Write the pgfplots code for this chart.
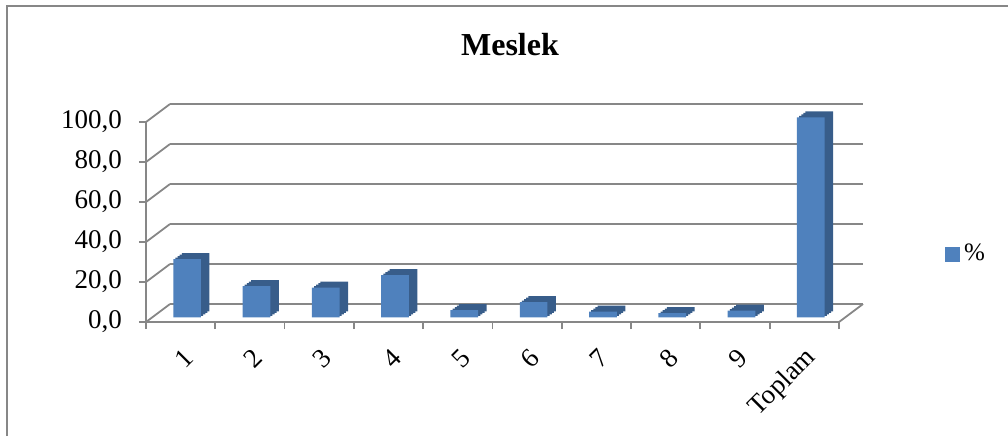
\documentclass[border=0pt]{standalone}
\usepackage{pgfplots}
\pgfplotsset{compat=1.18}
\usepackage{pgfplotstable}
\usepackage{fontspec}
\setmainfont{Liberation Serif}
\definecolor{barfront}{HTML}{4F81BD}
\definecolor{barside}{HTML}{385D8A}
\definecolor{gridc}{HTML}{878787}
\pgfplotstableread{
i v
0 29.1
1 15.6
2 14.8
3 21.1
4 3.6
5 7.6
6 2.8
7 2.1
8 3.3
9 100.0
}\meslek
\begin{document}
\begin{tikzpicture}
\useasboundingbox (0,0) rectangle (504pt,218pt);
\draw[gridc, line width=0.9pt] (3.5pt,0) -- (3.5pt,215pt) -- (504pt,215pt);
\node[anchor=base, font=\fontsize{16}{18}\selectfont\bfseries] at (255pt,190.5pt) {Meslek};
% back wall
\begin{axis}[
  at={(85pt,66pt)}, anchor=south west,
  scale only axis, width=346.5pt, height=100pt,
  xmin=-0.5, xmax=9.5, ymin=0, ymax=100,
  axis line style={draw=none},
  xtick=\empty, ytick={0,20,...,100}, yticklabels={},
  major tick length=0pt,
  ymajorgrids, grid style={gridc, line width=0.9pt},
]
\addplot[draw=none, forget plot] coordinates {(0,0)};
\end{axis}
% front
\begin{axis}[
  at={(73pt,57pt)}, anchor=south west,
  scale only axis, width=346.5pt, height=100pt,
  xmin=-0.5, xmax=9.5, ymin=0, ymax=100,
  clip=false,
  axis x line=bottom, axis y line=left,
  axis line style={-, gridc, line width=0.9pt},
  tick style={gridc, line width=0.9pt},
  tick align=outside, major tick length=3.5pt,
  ytick={0,20,...,100},
  xtick={-0.5,0.5,...,9.5}, xticklabels={},
  extra x ticks={0,1,2,3,4,5,6,7,8,9},
  extra x tick labels={1,2,3,4,5,6,7,8,9,Toplam},
  extra x tick style={major tick length=0pt, tick style={draw=none},
    xticklabel style={rotate=45, anchor=east, yshift=-14pt, xshift=-5pt}},
  tick label style={font=\fontsize{13.5}{15}\selectfont},
  yticklabel style={xshift=-5pt},
  /pgf/number format/assume math mode=true,
  yticklabel={\pgfmathprintnumber[fixed, fixed zerofill, precision=1, use comma]{\tick}},
  legend style={at={(1.153,0.34)}, anchor=west, draw=none, fill=none, inner sep=0pt,
    font=\fontsize{12.5}{14}\selectfont},
]
\addplot[ybar, bar width=13.85pt, bar shift=0pt, fill=barside, draw=none, xshift=7.5pt, yshift=5.35pt, forget plot] table[x=i,y=v]{\meslek};
\addplot[ybar, bar width=13.85pt, bar shift=0pt, fill=barside, draw=none, xshift=6.44pt, yshift=4.6pt, forget plot] table[x=i,y=v]{\meslek};
\addplot[ybar, bar width=13.85pt, bar shift=0pt, fill=barside, draw=none, xshift=5.38pt, yshift=3.85pt, forget plot] table[x=i,y=v]{\meslek};
\addplot[ybar, bar width=13.85pt, bar shift=0pt, fill=barside, draw=none, xshift=4.31pt, yshift=3.1pt, forget plot] table[x=i,y=v]{\meslek};
\addplot[ybar, bar width=13.85pt, bar shift=0pt, fill=barfront, draw=none, xshift=3.25pt, yshift=2.35pt, forget plot] table[x=i,y=v]{\meslek};
\addlegendimage{legend image code/.code={\fill[barfront] (0pt,-3.5pt) rectangle (7pt,3.5pt);}}
\addlegendentry{\%}
\pgfplotsinvokeforeach{0,20,40,60,80,100}{
  \draw[gridc, line width=0.9pt] (axis cs:-0.5,#1) -- ++(12pt,9pt);
}
\draw[gridc, line width=0.9pt] (axis cs:9.5,0) -- ++(12pt,9pt);
\end{axis}
\end{tikzpicture}
\end{document}
